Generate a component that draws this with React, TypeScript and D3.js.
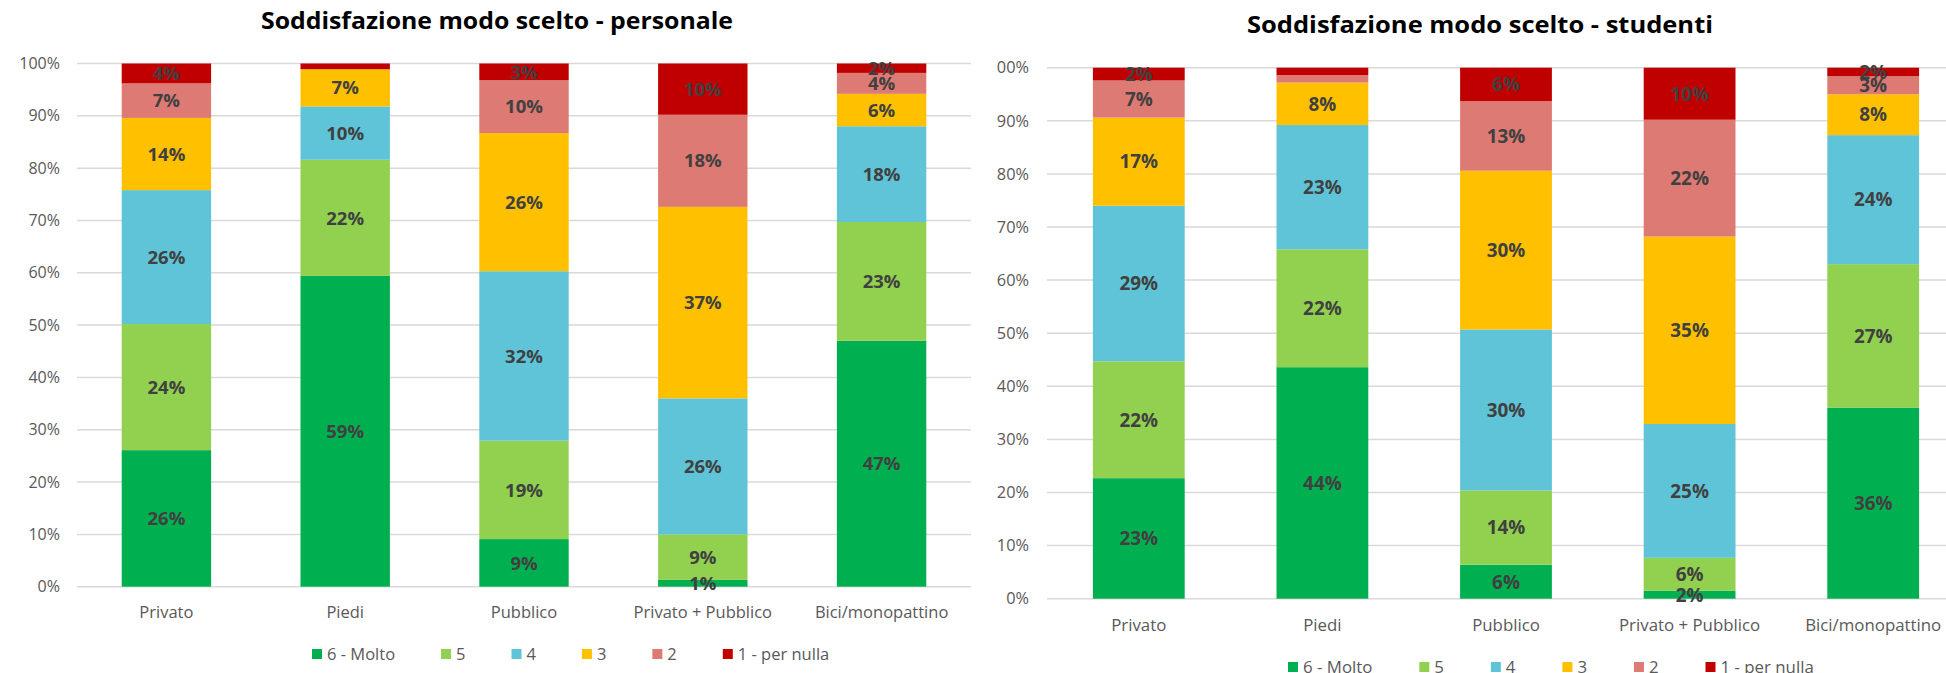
import React from "react";
import * as d3 from "d3";

const categories = ["Privato", "Piedi", "Pubblico", "Privato + Pubblico", "Bici/monopattino"];
const seriesNames = ["6 - Molto", "5", "4", "3", "2", "1 - per nulla"];
const seriesColors = ["#00B050", "#92D050", "#5FC4D7", "#FFC000", "#DD7A73", "#C00000"];
const yTicks = [0, 10, 20, 30, 40, 50, 60, 70, 80, 90, 100];

// personale
const personale6 = [26.1, 59.4, 9.1, 1.3, 47.0];
const personale5 = [24.1, 22.2, 18.8, 8.7, 22.7];
const personale4 = [25.6, 10.2, 32.4, 26.0, 18.3];
const personale3 = [13.8, 7.1, 26.4, 36.6, 6.2];
const personale2 = [6.6, 0, 10.1, 17.6, 4.0];
const personale1 = [3.8, 1.1, 3.2, 9.8, 1.8];
// labels removed in the source (series index, category index)
const personaleHidden = [[5, 1], [4, 1]];

// studenti
const studenti6 = [22.7, 43.6, 6.4, 1.5, 36.0];
const studenti5 = [22.0, 22.2, 14.0, 6.2, 27.0];
const studenti4 = [29.3, 23.4, 30.3, 25.2, 24.3];
const studenti3 = [16.6, 8.0, 29.9, 35.3, 7.7];
const studenti2 = [7.0, 1.4, 13.1, 22.0, 3.4];
const studenti1 = [2.4, 1.4, 6.3, 9.8, 1.6];
const studentiHidden = [[5, 1], [4, 1]];

const FONT = "'Open Sans', 'Noto Sans', sans-serif";

function measure(text: string, size: number, weight = "normal") {
  if (typeof document === "undefined") return text.length * size * 0.5;
  const c = document.createElement("canvas").getContext("2d");
  if (!c) return text.length * size * 0.5;
  c.font = `${weight} ${size}px 'Open Sans'`;
  return c.measureText(text).width;
}

type Layout = {
  x0: number; x1: number; yTop: number; yBottom: number;
  tickRight: number; titleX: number; titleY: number; titleWidth: number;
  xLabelY: number; legendX: number; legendY: number; fs: number;
};

function Chart({ title, values, hidden, L, clipId }: { title: string; values: number[][]; hidden: number[][]; L: Layout; clipId?: string }) {
  const x = d3.scaleBand<string>().domain(categories).range([L.x0, L.x1]).paddingInner(0.5).paddingOuter(0.25);
  const y = d3.scaleLinear().domain([0, 100]).range([L.yBottom, L.yTop]);
  const stackData = categories.map((c, i) => {
    const o: any = { cat: c };
    seriesNames.forEach((s, j) => (o[s] = values[j][i]));
    return o;
  });
  const stacked = d3.stack<any>().keys(seriesNames)(stackData);
  const isHidden = (j: number, i: number) => hidden.some(h => h[0] === j && h[1] === i);

  let lx = L.legendX;
  const legendItems = seriesNames.map((s, j) => {
    const item = { s, j, x: lx };
    lx += 10 + 5 + measure(s, 16.5 * L.fs) + 46 * L.fs;
    return item;
  });

  return (
    <g clipPath={clipId ? `url(#${clipId})` : undefined}>
      <text x={L.titleX} y={L.titleY} textAnchor="middle" fontFamily={FONT} fontWeight="bold"
        fontSize={23.5 * L.fs} fill="#000" textLength={L.titleWidth} lengthAdjust="spacingAndGlyphs">{title}</text>
      {yTicks.map(t => (
        <g key={t}>
          <line x1={L.x0} x2={L.x1} y1={y(t)} y2={y(t)} stroke="#D9D9D9" strokeWidth={1.5} />
          <text x={L.tickRight} y={y(t)} dy="0.35em" textAnchor="end" fontFamily={FONT}
            fontSize={16 * L.fs} fill="#595959">{t}%</text>
        </g>
      ))}
      {stacked.map((layer, j) => (
        <g key={layer.key} fill={seriesColors[j]}>
          {layer.map((d, i) => (
            d[1] - d[0] > 0 ? (
              <rect key={i} x={x(categories[i])} width={x.bandwidth()} y={y(d[1])} height={y(d[0]) - y(d[1])} />
            ) : null
          ))}
        </g>
      ))}
      {stacked.map((layer, j) => (
        <g key={"l" + layer.key}>
          {layer.map((d, i) => (
            d[1] - d[0] > 0 && !isHidden(j, i) ? (
              <text key={i} x={(x(categories[i]) as number) + x.bandwidth() / 2} y={(y(d[0]) + y(d[1])) / 2}
                dy="0.36em" textAnchor="middle" fontFamily={FONT} fontWeight="bold"
                fontSize={18.5 * L.fs} fill="#404040">{Math.round(d[1] - d[0])}%</text>
            ) : null
          ))}
        </g>
      ))}
      {categories.map(c => (
        <text key={c} x={(x(c) as number) + x.bandwidth() / 2} y={L.xLabelY} dy="0.35em" textAnchor="middle"
          fontFamily={FONT} fontSize={16.5 * L.fs} fill="#595959">{c}</text>
      ))}
      {legendItems.map(it => (
        <g key={it.s}>
          <rect x={it.x} y={L.legendY - 5} width={10} height={10} fill={seriesColors[it.j]} />
          <text x={it.x + 15} y={L.legendY} dy="0.35em" fontFamily={FONT} fontSize={16.5 * L.fs} fill="#595959">{it.s}</text>
        </g>
      ))}
    </g>
  );
}

export default function App() {
  const personale = [personale6, personale5, personale4, personale3, personale2, personale1];
  const studenti = [studenti6, studenti5, studenti4, studenti3, studenti2, studenti1];
  const left: Layout = {
    x0: 77, x1: 971, yTop: 63.5, yBottom: 586.7, tickRight: 60,
    titleX: 497, titleY: 29, titleWidth: 472, xLabelY: 612, legendX: 312, legendY: 654, fs: 1,
  };
  const right: Layout = {
    x0: 1047, x1: 1965, yTop: 67.7, yBottom: 598.7, tickRight: 1029,
    titleX: 1480, titleY: 33, titleWidth: 466, xLabelY: 625, legendX: 1288, legendY: 667, fs: 1.02,
  };
  return (
    <div style={{ position: "fixed", left: 0, top: 0, width: 1946, height: 673, background: "#fff" }}>
      <svg width={1946} height={673} style={{ display: "block" }}>
        <defs>
          <clipPath id="rightClip"><rect x={996} y={0} width={950} height={673} /></clipPath>
        </defs>
        <rect x={0} y={0} width={1946} height={673} fill="#fff" />
        <Chart title="Soddisfazione modo scelto - studenti" values={studenti} hidden={studentiHidden} L={right} clipId="rightClip" />
        <Chart title="Soddisfazione modo scelto - personale" values={personale} hidden={personaleHidden} L={left} />
      </svg>
    </div>
  );
}
